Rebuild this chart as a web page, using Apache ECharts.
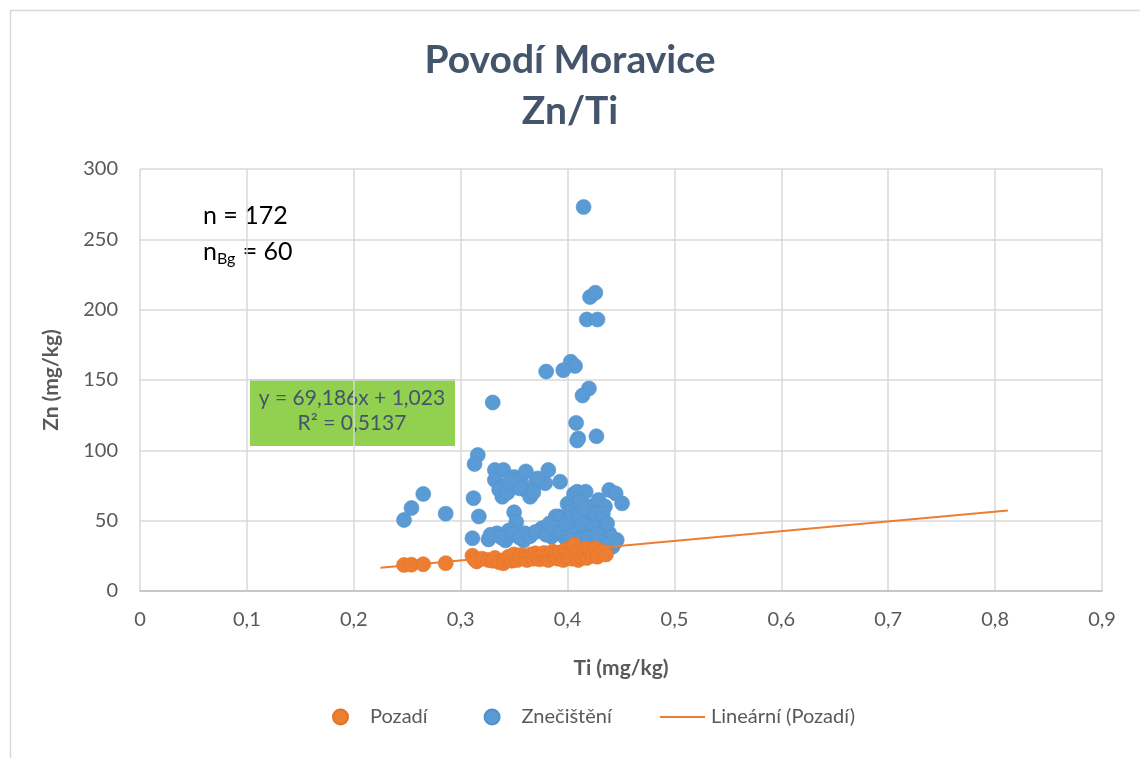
<!DOCTYPE html>
<html><head><meta charset="utf-8">
<script src="https://cdn.jsdelivr.net/npm/echarts@6/dist/echarts.min.js"></script>
<style>html,body{margin:0;padding:0;background:#fff}#c{width:1140px;height:758px}</style>
</head><body><div id="c"></div>
<script>
var xTicks = [0,0.1,0.2,0.3,0.4,0.5,0.6,0.7,0.8,0.9];
var yTicks = [0,50,100,150,200,250,300];

var pozadiX = [0.247,0.254,0.265,0.286,0.311,0.313,0.315,0.320,0.326,0.330,0.332,0.336,0.340,0.342,0.345,0.348,0.350,0.353,0.355,0.357,0.360,0.362,0.364,0.366,0.368,0.370,0.372,0.374,0.376,0.378,0.380,0.382,0.384,0.386,0.388,0.389,0.391,0.393,0.395,0.396,0.398,0.400,0.402,0.403,0.404,0.406,0.408,0.410,0.411,0.413,0.415,0.417,0.418,0.420,0.422,0.424,0.426,0.428,0.432,0.436];
var pozadiY = [18.5,18.7,19,19.8,25,22.5,21,23,22,21.5,23.5,20.5,19.7,22.5,24.4,21.5,26,22,24,25.6,23,22,24.5,26,23,26.8,24,22.5,25.6,27,24,22,26,28,24.5,26.8,23,27.5,25,22,29,24,30,26.8,23,32.7,25,22,28,24,26.8,30,23.5,29,27,25,30.4,24.4,28,26];

var znecX = [0.415,0.421,0.426,0.418,0.428,0.403,0.407,0.396,0.380,0.420,0.414,0.330,0.408,0.410,0.409,0.427,
  0.316,0.313,0.332,0.340,0.332,0.339,0.339,0.350,0.356,0.361,0.360,0.365,0.370,0.379,0.382,0.393,0.312,0.317,0.350,0.352,0.311,0.326,0.334,0.342,0.345,0.360,0.359,0.376,0.385,0.392,0.395,0.398,0.400,0.406,
  0.247,0.254,0.265,0.286,
  0.409,0.417,0.439,0.445,0.451,0.404,0.412,0.421,0.429,0.435,0.389,0.393,0.403,0.407,0.418,0.429,0.409,0.418,0.432,0.439,0.446,0.424,0.431,0.442,0.412,
  0.336,0.344,0.355,0.368,0.372,0.346,0.328,0.338,0.348,0.355,0.365,0.370,0.380,0.383,0.388,0.394,0.401,0.405,0.402,0.410,0.414,0.416,0.423,0.426,0.433,0.437,0.441,0.444,0.436,0.420,0.428,0.398,0.413];
var znecY = [273,209,212,193,193,163,160,157,156,144,139,134,119.5,108.5,107,110,
  96.7,90.3,86,86,79,74,67,81,79,85,72,67,76.6,76.6,86,77.7,66,53,56,49,37.5,36.7,41,36,43,41,36,44.6,38.6,53,45.7,37.5,62,69,
  50.5,59,69,55,
  70.6,70.6,71.8,69.4,62.3,60,63.5,60,64.7,60,53,51.7,56,49,53,50.5,43.4,41,43.4,41,36.3,34,31.5,31.5,36.3,
  72,70,73,70,80,78,40,38,40,38,39,42,40,48,45,42,40,46,52,55,48,58,45,55,55,48,38,34,33,38,40,48,30];

var trendSlope = 69.186, trendIntercept = 1.023;
var trendRange = [0.225, 0.812];

function zip(a,b){return a.map(function(v,i){return [v,b[i]];});}
var trendData = trendRange.map(function(x){return [x, trendSlope*x + trendIntercept];});

var FONT = 'Lato';
var chart = echarts.init(document.getElementById('c'));
chart.setOption({
  animation:false,
  backgroundColor:'#fff',
  textStyle:{fontFamily:FONT},
  title:{
    text:'Povodí Moravice\nZn/Ti',
    left:'center', top:30,
    textStyle:{fontFamily:FONT,fontSize:39,fontWeight:'bold',color:'#44546a',lineHeight:51}
  },
  grid:{left:140,right:38,top:169,bottom:167,containLabel:false},
  xAxis:{
    type:'value',min:0,max:0.9,interval:0.1,
    name:'Ti (mg/kg)',nameLocation:'middle',nameGap:67,
    nameTextStyle:{fontFamily:FONT,fontSize:21,fontWeight:'bold',color:'#595959'},
    axisLine:{show:true,lineStyle:{color:'#bfbfbf',width:1.5}},
    axisTick:{show:false},
    axisLabel:{fontFamily:FONT,fontSize:20,color:'#595959',margin:19,
      formatter:function(v){return String(Math.round(v*10)/10).replace('.',',');}},
    splitLine:{show:true,lineStyle:{color:'#d9d9d9',width:1.5}}
  },
  yAxis:{
    type:'value',min:0,max:300,interval:50,
    name:'Zn (mg/kg)',nameLocation:'middle',nameGap:78,nameRotate:90,
    nameTextStyle:{fontFamily:FONT,fontSize:21,fontWeight:'bold',color:'#595959'},
    axisLine:{show:false},axisTick:{show:false},
    axisLabel:{fontFamily:FONT,fontSize:20,color:'#595959',margin:22},
    splitLine:{show:true,lineStyle:{color:'#d9d9d9',width:1.5}}
  },
  legend:[{
    data:['Pozadí','Znečištění'],
    left:327, top:702, icon:'circle', itemWidth:15, itemHeight:15, itemGap:56,
    textStyle:{fontFamily:FONT,fontSize:20,color:'#595959',padding:[0,0,0,17]}
  },{
    data:['Lineární (Pozadí)'],
    left:655, top:702, icon:'rect', itemWidth:45, itemHeight:2,
    textStyle:{fontFamily:FONT,fontSize:20,color:'#595959',padding:[0,0,0,1]}
  }],
  series:[
    {name:'Znečištění',type:'scatter',data:zip(znecX,znecY),symbolSize:15,z:2,
      itemStyle:{color:'#5b9bd5',borderColor:'#5090cc',borderWidth:0.6,opacity:1}},
    {name:'Pozadí',type:'scatter',data:zip(pozadiX,pozadiY),symbolSize:15,z:3,
      itemStyle:{color:'#ed7d31',borderColor:'#e27428',borderWidth:0.6,opacity:1}},
    {name:'Lineární (Pozadí)',type:'line',data:trendData,showSymbol:false,symbol:'none',z:4,
      lineStyle:{color:'#ed7d31',width:2},itemStyle:{color:'#ed7d31'}}
  ],
  graphic:[
    {type:'rect',shape:{x:10.5,y:10.5,width:1200,height:800},style:{fill:'none',stroke:'#d9d9d9',lineWidth:1.5},z:-1},
    {type:'text',x:203,y:216,style:{text:'n = 172',fontFamily:FONT,fontSize:25,fill:'#000',verticalAlign:'middle'}},
    {type:'text',x:203,y:252,style:{
      text:'{a|n}{b|Bg}{a| = 60}',verticalAlign:'middle',
      rich:{a:{fontFamily:FONT,fontSize:25,color:'#000'},b:{fontFamily:FONT,fontSize:16,color:'#000',padding:[14,1,0,0]}}
    }},
    {type:'rect',shape:{x:250,y:379,width:205,height:67},style:{fill:'#92d050'}},
    {type:'text',x:352,y:398,style:{text:'y = 69,186x + 1,023',fontFamily:FONT,fontSize:21,fill:'#44546a',align:'center',verticalAlign:'middle'}},
    {type:'text',x:352,y:423,style:{text:'R² = 0,5137',fontFamily:FONT,fontSize:21,fill:'#44546a',align:'center',verticalAlign:'middle'}}
  ]
});
</script></body></html>
